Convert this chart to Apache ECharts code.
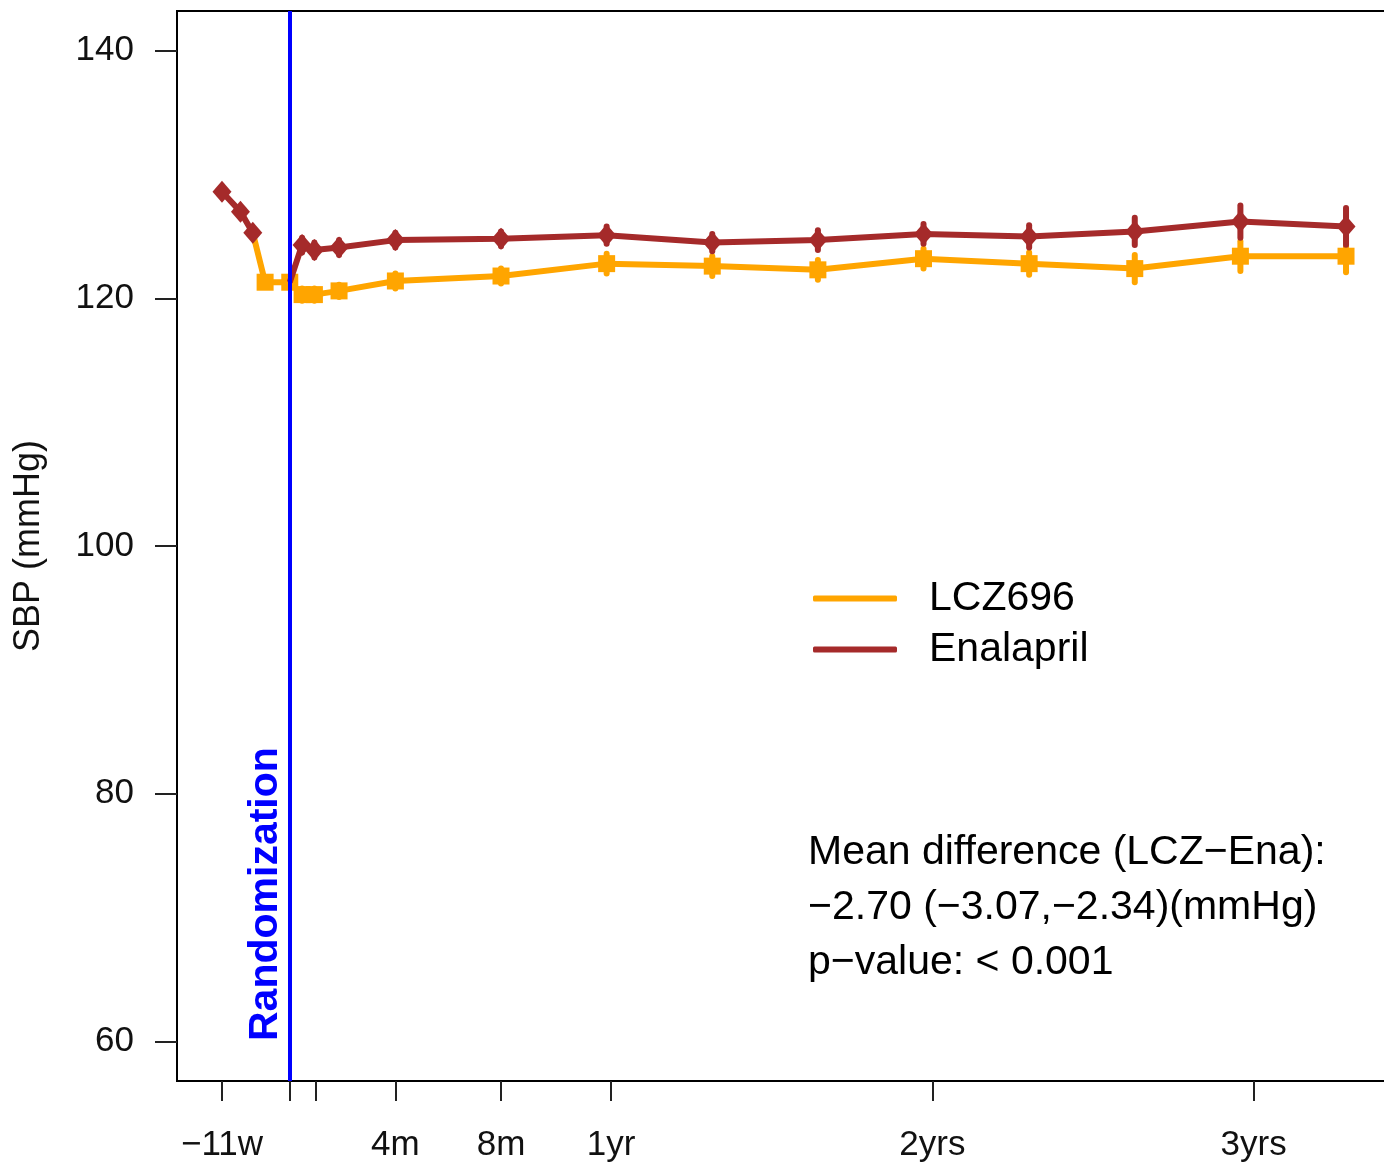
<!DOCTYPE html>
<html><head><meta charset="utf-8">
<script src="https://cdn.jsdelivr.net/npm/echarts@6/dist/echarts.min.js"></script>
<style>html,body{margin:0;padding:0;background:#fff}#c{width:1384px;height:1166px}</style>
</head><body><div id="c"></div>
<script>
// ---- data (x in days from randomization, y in mmHg) ----
const runInDaysEna = [-77, -56, -42];
const runInEna = [128.6, 127.0, 125.3];
const runInEnaErr = [0.2, 0.2, 0.2];
const runInDaysLcz = [-28, 0];
const runInLcz = [121.3, 121.3];
const runInLczErr = [0.2, 0.2];
const visitDays = [14, 28, 56, 120, 240, 360, 480, 600, 720, 840, 960, 1080, 1200];
const enaVals = [124.3, 123.9, 124.1, 124.7, 124.8, 125.1, 124.5, 124.7, 125.2, 125.0, 125.4, 126.2, 125.8];
const lczVals = [120.3, 120.3, 120.6, 121.4, 121.8, 122.8, 122.6, 122.3, 123.2, 122.8, 122.4, 123.4, 123.4];
const enaErr = [0.6, 0.6, 0.6, 0.6, 0.6, 0.7, 0.7, 0.8, 0.8, 0.9, 1.1, 1.3, 1.5];
const lczErr = [0.5, 0.5, 0.5, 0.6, 0.6, 0.8, 0.8, 0.8, 0.8, 0.9, 1.1, 1.2, 1.3];
const xTickDays = [-77, 0, 30, 120, 240, 365, 730, 1095];
const xTickLabels = ['\u221211w', '', '', '4m', '8m', '1yr', '2yrs', '3yrs'];
const xLabelDays = [-77, 120, 240, 365, 730, 1095];
const yTicks = [60, 80, 100, 120, 140];
const seriesNames = ['LCZ696', 'Enalapril'];
const randomizationDay = 0;
const annotationLines = ['Mean difference (LCZ\u2212Ena):', '\u22122.70 (\u22123.07,\u22122.34)(mmHg)', 'p\u2212value: < 0.001'];

const ORANGE = '#FFA500', BROWN = '#A52A2A', BLUE = '#0000FF';
const FONT = '"Liberation Sans", Arial, Helvetica, sans-serif';

const zip = (xs, ys) => xs.map((x, i) => [x, ys[i]]);
const zip3 = (xs, ys, es) => xs.map((x, i) => [x, ys[i], es[i]]);

const lczData = [{ value: [runInDaysEna[runInDaysEna.length - 1], runInEna[runInEna.length - 1]], symbol: 'none' }]
  .concat(zip(runInDaysLcz, runInLcz), zip(visitDays, lczVals));
const enaRunData = zip(runInDaysEna, runInEna);
const enaPostData = [{ value: [runInDaysLcz[runInDaysLcz.length - 1], runInLcz[runInLcz.length - 1]], symbol: 'none' }]
  .concat(zip(visitDays, enaVals));

function errRender(color) {
  return function (params, api) {
    const x = api.value(0), y = api.value(1), e = api.value(2);
    const p1 = api.coord([x, y - e]), p2 = api.coord([x, y + e]);
    return { type: 'line', shape: { x1: p1[0], y1: p1[1], x2: p2[0], y2: p2[1] },
      style: { stroke: color, lineWidth: 6, lineCap: 'round' } };
  };
}

const chart = echarts.init(document.getElementById('c'), null, { renderer: 'canvas' });
chart.setOption({
  animation: false,
  backgroundColor: '#fff',
  grid: { left: 177, top: 11, width: 1214, height: 1070, outerBoundsMode: 'none', containLabel: false,
    show: true, borderColor: '#000', borderWidth: 2, backgroundColor: 'transparent' },
  xAxis: {
    type: 'value', min: -128.1, max: 1251.1,
    axisLine: { show: true, onZero: false, lineStyle: { color: '#000', width: 2 } },
    splitLine: { show: false },
    axisTick: { show: true, customValues: xTickDays, length: 20, lineStyle: { color: '#222', width: 2 } },
    axisLabel: { show: true, customValues: xLabelDays, margin: 47, fontSize: 35, fontFamily: FONT, color: '#111',
      formatter: v => { const i = xTickDays.indexOf(v); return i >= 0 ? xTickLabels[i] : ''; } }
  },
  yAxis: {
    type: 'value', min: 56.8, max: 143.2,
    name: 'SBP (mmHg)', nameLocation: 'middle', nameGap: 130, nameRotate: 90,
    nameTextStyle: { fontSize: 36, fontFamily: FONT, color: '#111' },
    axisLine: { show: true, onZero: false, lineStyle: { color: '#000', width: 2 } },
    splitLine: { show: false },
    axisTick: { show: true, customValues: yTicks, length: 22, lineStyle: { color: '#222', width: 2 } },
    axisLabel: { show: true, customValues: yTicks, margin: 43, fontSize: 35, fontFamily: FONT, color: '#111' }
  },
  legend: {
    data: [{ name: seriesNames[0], icon: 'roundRect' }, { name: seriesNames[1], icon: 'roundRect' }],
    orient: 'vertical', left: 808, top: 573, itemWidth: 84, itemHeight: 6, itemGap: 10,
    selectedMode: false,
    textStyle: { fontSize: 41, fontFamily: FONT, color: '#000', padding: [0, 0, 0, 27] }
  },
  series: [
    { type: 'custom', name: 'lczErr', silent: true, z: 2, renderItem: errRender(ORANGE),
      encode: { x: 0, y: 1 }, data: zip3(runInDaysLcz, runInLcz, runInLczErr).concat(zip3(visitDays, lczVals, lczErr)) },
    { type: 'custom', name: 'enaErr', silent: true, z: 2, renderItem: errRender(BROWN),
      encode: { x: 0, y: 1 }, data: zip3(runInDaysEna, runInEna, runInEnaErr).concat(zip3(visitDays, enaVals, enaErr)) },
    { type: 'line', name: seriesNames[0], data: lczData, z: 3,
      symbol: 'rect', symbolSize: 17, showAllSymbol: true,
      lineStyle: { color: ORANGE, width: 6 }, itemStyle: { color: ORANGE } },
    { type: 'line', name: seriesNames[1], data: enaPostData, z: 4,
      symbol: 'diamond', symbolSize: [19, 22], showAllSymbol: true,
      lineStyle: { color: BROWN, width: 6 }, itemStyle: { color: BROWN },
      markLine: { silent: true, symbol: ['none', 'none'], label: { show: false },
        lineStyle: { color: BLUE, width: 4, type: 'solid' }, data: [{ xAxis: randomizationDay }] } },
    { type: 'line', name: seriesNames[1], data: enaRunData, z: 4,
      symbol: 'diamond', symbolSize: [19, 22], showAllSymbol: true,
      lineStyle: { color: BROWN, width: 6 }, itemStyle: { color: BROWN } }
  ],
  graphic: [
    { type: 'text', left: 808, top: 825, silent: true,
      style: { text: annotationLines.join('\n'), font: '41px ' + FONT, lineHeight: 55, fill: '#000' } },
    { type: 'text', x: 266, y: 1041, rotation: Math.PI / 2, silent: true,
      style: { text: 'Randomization', font: 'bold 41px ' + FONT, fill: BLUE,
        align: 'left', verticalAlign: 'middle', textAlign: 'left', textVerticalAlign: 'middle' } }
  ]
});
</script></body></html>
